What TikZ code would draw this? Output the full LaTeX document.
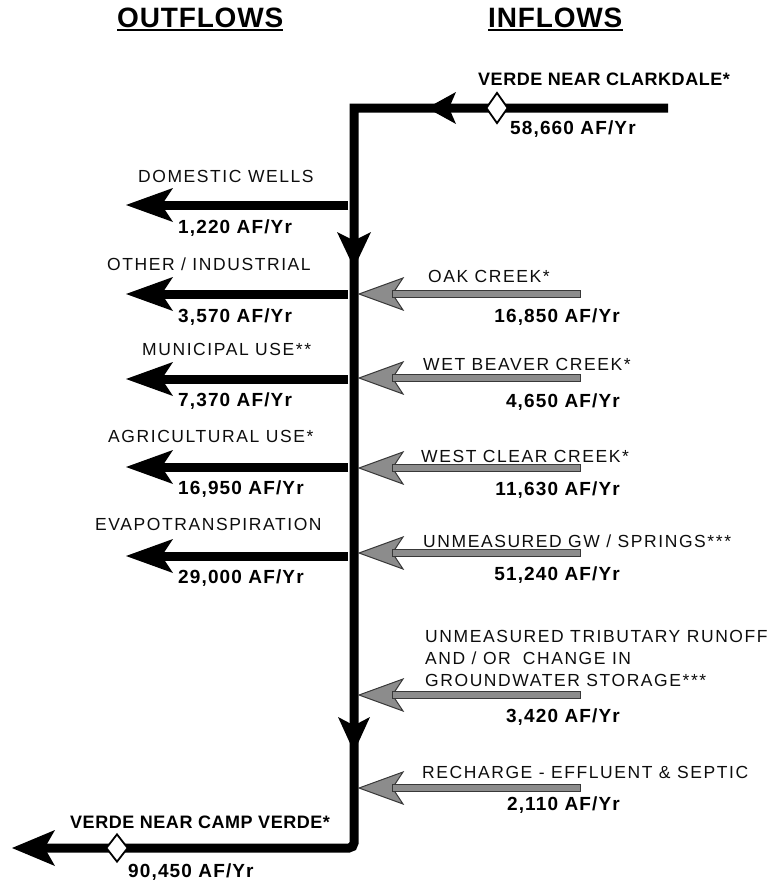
\documentclass[tikz,border=0pt]{standalone}
\usepackage{fontspec}
\setmainfont{Liberation Sans}
\newfontfamily\labfont[LetterSpace=9]{Liberation Sans}
\newfontfamily\valfont[LetterSpace=6]{Liberation Sans}
\newfontfamily\hdrfont[LetterSpace=3]{Liberation Sans}
\usetikzlibrary{shapes.geometric}
\definecolor{agray}{gray}{0.55}
\definecolor{aedge}{gray}{0.22}
\definecolor{txt}{gray}{0.05}
\newcommand\inflowarrow[2]{%
  \coordinate (#1T) at (359,#2);
  \coordinate (#1N) at (392,#2);
  \coordinate (#1S) at (580,#2);
  \pic at (#1T) {hd={44}{16}{fill=agray,draw=aedge,line width=1pt}};
  \filldraw[inshaft] ([yshift=3.5pt]#1N) rectangle ([yshift=-3.5pt]#1S);
}
\newcommand\outflowarrow[2]{%
  \coordinate (#1S) at (348,#2);
  \coordinate (#1T) at (160,#2);
  \coordinate (#1P) at (126,#2);
  \draw[outshaft] (#1S) -- (#1T);
  \pic at (#1P) {hd={47}{17}{fill=black}};
}
\begin{document}
\begin{tikzpicture}[x=1pt,y=-1pt,
  lab/.style={font=\labfont\fontsize{17.5}{20}\selectfont, text=txt, anchor=base west, inner sep=0pt},
  val/.style={font=\valfont\bfseries\fontsize{19}{22}\selectfont, anchor=base west, inner sep=0pt},
  valr/.style={val, anchor=base east},
  gaugelab/.style={font=\hdrfont\bfseries\fontsize{18}{21}\selectfont, anchor=base west, inner sep=0pt},
  hdr/.style={font=\hdrfont\bfseries\fontsize{28}{32}\selectfont, anchor=base west, inner sep=0pt},
  river/.style={line width=9pt, line cap=butt, line join=miter},
  outshaft/.style={line width=9pt},
  inshaft/.style={fill=agray, draw=aedge, line width=1pt},
  gaugemark/.style={diamond, draw, fill=white, line width=1.8pt, inner sep=0pt, minimum width=22pt},
  pics/hd/.style n args={3}{code={\path[#3] (0,0) .. controls (0.5*#1,-0.45*#2) .. (#1,-#2) -- (0.76*#1,0) -- (#1,#2) .. controls (0.5*#1,0.45*#2) .. (0,0) -- cycle;}},
]
\useasboundingbox (0,0) rectangle (769,883);

% headers
\node[hdr] (hO) at (117,28) {OUTFLOWS};
\node[hdr] (hI) at (488,28) {INFLOWS};
\draw[line width=2pt] ([yshift=-2.5pt]hO.base west) -- ([yshift=-2.5pt]hO.base east);
\draw[line width=2pt] ([yshift=-2.5pt]hI.base west) -- ([yshift=-2.5pt]hI.base east);

% main river
\coordinate (topR) at (668,108);
\coordinate (topL) at (354,108);
\coordinate (botR) at (354,848);
\coordinate (botL) at (45,848);
\draw[river] (topR) -- (topL) [rounded corners=5pt] -- (botR) -- (botL);
\pic at (427,108) {hd={29}{16}{fill=black}};
\pic[rotate=90] at (354,268) {hd={36}{17}{fill=black}};
\pic[rotate=90] at (354,752) {hd={35}{16}{fill=black}};
\pic at (12,848) {hd={43}{18}{fill=black}};
\node[gaugemark, minimum height=31pt] (g1) at (497,108) {};
\node[gaugemark, minimum height=28pt] (g2) at (117,848) {};

% gauge labels
\node[gaugelab] (g1lab) at (478,85) {VERDE NEAR CLARKDALE*};
\node[val] (g1val) at (510,134) {58,660 AF/Yr};
\node[gaugelab] (g2lab) at (70,828) {VERDE NEAR CAMP VERDE*};
\node[val] (g2val) at (128,877) {90,450 AF/Yr};

% outflows
\outflowarrow{dom}{205}
\outflowarrow{oth}{294}
\outflowarrow{mun}{379}
\outflowarrow{agr}{467}
\outflowarrow{eva}{556}
\node[lab] (domL) at (138,182) {DOMESTIC WELLS};
\node[val] (domV) at (178,233) {1,220 AF/Yr};
\node[lab] (othL) at (107,270) {OTHER / INDUSTRIAL};
\node[val] (othV) at (178,322) {3,570 AF/Yr};
\node[lab] (munL) at (142,355) {MUNICIPAL USE**};
\node[val] (munV) at (178,406) {7,370 AF/Yr};
\node[lab] (agrL) at (108,442) {AGRICULTURAL USE*};
\node[val] (agrV) at (178,494) {16,950 AF/Yr};
\node[lab] (evaL) at (95,530) {EVAPOTRANSPIRATION};
\node[val] (evaV) at (178,583) {29,000 AF/Yr};

% inflows
\inflowarrow{oak}{294}
\inflowarrow{wbc}{378}
\inflowarrow{wcc}{468}
\inflowarrow{ugw}{553}
\inflowarrow{trb}{695}
\inflowarrow{rch}{788}
\node[lab] (oakL) at (428,282) {OAK CREEK*};
\node[valr] (oakV) at (620,322) {16,850 AF/Yr};
\node[lab] (wbcL) at (423,370) {WET BEAVER CREEK*};
\node[valr] (wbcV) at (620,407) {4,650 AF/Yr};
\node[lab] (wccL) at (421,462) {WEST CLEAR CREEK*};
\node[valr] (wccV) at (620,495) {11,630 AF/Yr};
\node[lab] (ugwL) at (423,547) {UNMEASURED GW / SPRINGS***};
\node[valr] (ugwV) at (620,580) {51,240 AF/Yr};
\node[lab] (trbL1) at (425,642) {UNMEASURED TRIBUTARY RUNOFF};
\node[lab] (trbL2) at (425,664) {AND / OR\hspace{12pt}CHANGE IN};
\node[lab] (trbL3) at (425,686) {GROUNDWATER STORAGE***};
\node[valr] (trbV) at (620,722) {3,420 AF/Yr};
\node[lab] (rchL) at (422,778) {RECHARGE - EFFLUENT \& SEPTIC};
\node[valr] (rchV) at (620,810) {2,110 AF/Yr};
\end{tikzpicture}
\end{document}
